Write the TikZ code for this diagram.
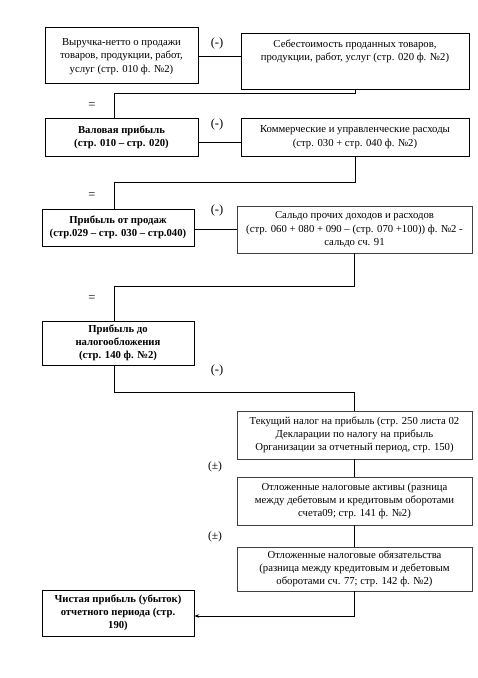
\documentclass[tikz,border=0pt]{standalone}
\usepackage{fontspec}
\setmainfont{Liberation Serif}
\usetikzlibrary{arrows.meta}
\begin{document}
\begin{tikzpicture}[x=1pt,y=-1pt,
  box/.style={draw=black,line width=0.7pt,rectangle,align=center,inner sep=1pt,
    font=\fontsize{10.7}{13.3}\selectfont},
  gbox/.style={box,draw=black!75,line width=0.9pt},
  bbox/.style={box,font=\fontsize{10.7}{13.3}\selectfont\bfseries},
  conn/.style={draw=black,line width=0.7pt},
  sign/.style={font=\fontsize{12.5}{13}\selectfont,inner sep=0pt},
  psign/.style={font=\fontsize{11.5}{13}\selectfont,inner sep=0pt}]
\useasboundingbox (0,0) rectangle (478,678);
\fill[white] (0,0) rectangle (478,678);

\node[box,minimum width=153pt,minimum height=56pt] (b1) at (121.5,55)
  {\\[-3pt]Выручка-нетто о продажи\\товаров, продукции, работ,\\услуг (стр. 010 ф. №2)};
\node[box,minimum width=228pt,minimum height=56pt] (b2) at (355,61)
  {Себестоимость проданных товаров,\\продукции, работ, услуг (стр. 020 ф. №2)\\[9pt]\mbox{}};
\node[bbox,minimum width=153pt,minimum height=38pt] (b3) at (121.5,137)
  {Валовая прибыль\\(стр. 010 – стр. 020)};
\node[box,minimum width=228pt,minimum height=38pt] (b4) at (355,137)
  {Коммерческие и управленческие расходы\\(стр. 030 + стр. 040 ф. №2)};
\node[bbox,minimum width=152pt,minimum height=37pt] (b5) at (118,227.5)
  {Прибыль от продаж\\(стр.029 – стр. 030 – стр.040)};
\node[gbox,minimum width=235pt,minimum height=47pt] (b6) at (354.5,229.5)
  {Сальдо прочих доходов и расходов\\(стр. 060 + 080 + 090 – (стр. 070 +100)) ф. №2 -\\сальдо сч. 91};
\node[bbox,minimum width=152pt,minimum height=44pt] (b7) at (118,343)
  {Прибыль до\\налогообложения\\(стр. 140 ф. №2)};
\node[gbox,minimum width=235pt,minimum height=48pt] (b8) at (354.5,435)
  {Текущий налог на прибыль (стр. 250 листа 02\\Декларации по налогу на прибыль\\Организации за отчетный период, стр. 150)};
\node[gbox,minimum width=235pt,minimum height=48pt] (b9) at (354.5,501)
  {Отложенные налоговые активы (разница\\между дебетовым и кредитовым оборотами\\счета09; стр. 141 ф. №2)};
\node[gbox,minimum width=235pt,minimum height=44pt] (b10) at (354.5,569)
  {Отложенные налоговые обязательства\\(разница между кредитовым и дебетовым\\оборотами сч. 77; стр. 142 ф. №2)};
\node[bbox,minimum width=152pt,minimum height=46pt] (b11) at (118,613)
  {Чистая прибыль (убыток)\\отчетного периода (стр.\\190)};

\coordinate (j1) at (114,93);
\coordinate (j2) at (114,182);
\coordinate (j3) at (114,286);
\coordinate (j4) at (114,392);

\draw[conn] ([yshift=-1pt]b1.east) -- ([yshift=-1pt]b1.east -| b2.west);
\draw[conn] (b2.south) |- (j1) -- (j1 |- b3.north);
\draw[conn] ([yshift=-5pt]b3.east) -- ([yshift=-5pt]b3.east -| b4.west);
\draw[conn] (b4.south) |- (j2) -- (j2 |- b5.north);
\draw[conn] ([yshift=-1.5pt]b5.east) -- ([yshift=-1.5pt]b5.east -| b6.west);
\draw[conn] (b6.south) |- (j3) -- (j3 |- b7.north);
\draw[conn] (j4 |- b7.south) -- (j4) -| (b8.north);
\draw[conn] (b8.south) -- (b9.north);
\draw[conn] (b9.south) -- (b10.north);
\draw[conn,-{Stealth[length=5pt,width=3.5pt]}] (b10.south) |- ([yshift=-3pt]b11.east);

\node[sign] (m1) at (217,43) {(-)};
\node[sign] (m2) at (217,124) {(-)};
\node[sign] (m3) at (217,210) {(-)};
\node[sign] (m4) at (217,370) {(-)};
\node[sign] (e1) at (92,106) {=};
\node[sign] (e2) at (92,196) {=};
\node[sign] (e3) at (92,299) {=};
\node[psign] (p1) at (215,467) {(±)};
\node[psign] (p2) at (215,537) {(±)};
\end{tikzpicture}
\end{document}
